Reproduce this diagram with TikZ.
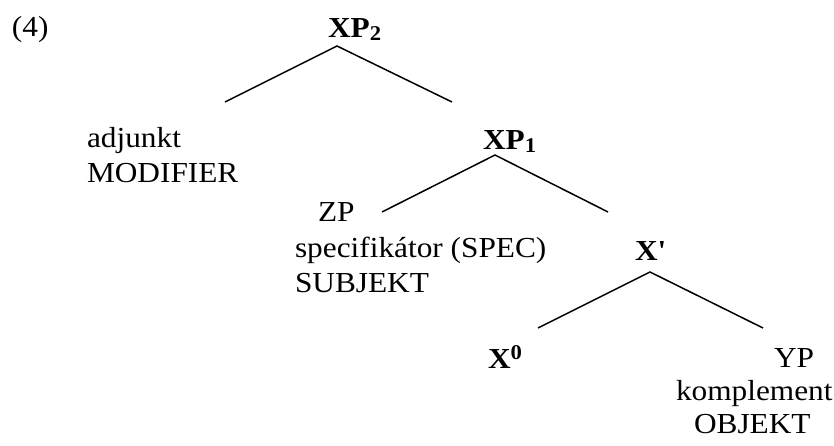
\documentclass[tikz,border=0pt]{standalone}
\usepackage{fontspec}
\setmainfont{Liberation Serif}[Ligatures={TeXOff,CommonOff},FakeStretch=1.08]
\newcommand\mysub[1]{\raisebox{-3pt}{\fontsize{21}{21}\selectfont #1}}
\newcommand\mysup[1]{\raisebox{9pt}{\fontsize{21}{21}\selectfont #1}}
\begin{document}
\begin{tikzpicture}[x=1pt,y=-1pt,
  lbl/.style={anchor=base west,inner sep=0pt,outer sep=0pt,font=\fontsize{29}{35}\selectfont},
  cat/.style={lbl,font=\fontsize{29}{35}\selectfont\bfseries},
  branch/.style={line width=1.5pt}]
\useasboundingbox (0,0) rectangle (834,446);
% labels
\node[lbl] (ex) at (12,37) {(4)};
\node[cat] (xp2) at (328,38) {XP\mysub{2}};
\node[lbl] (adj) at (87,148) {adjunkt};
\node[lbl] (mod) at (87,183) {MODIFIER};
\node[cat] (xp1) at (483,150) {XP\mysub{1}};
\node[lbl] (zp) at (318,222) {ZP};
\node[lbl] (spec) at (295,257) {specifikátor (SPEC)};
\node[lbl] (subj) at (295,292) {SUBJEKT};
\node[cat] (xbar) at (635,260) {X'};
\node[cat] (x0) at (488,368) {X\mysup{0}};
\node[lbl] (yp) at (774,367) {YP};
\node[lbl] (kompl) at (676,400) {komplement};
\node[lbl] (obj) at (694,433) {OBJEKT};
% branch points
\coordinate (p2) at (337,46);
\coordinate (p2l) at (225,102);
\coordinate (p2r) at (452,102);
\coordinate (p1) at (495,155);
\coordinate (p1l) at (382,212);
\coordinate (p1r) at (608,212);
\coordinate (pb) at (650,272);
\coordinate (pbl) at (538,328);
\coordinate (pbr) at (763,328);
% branches
\draw[branch] (p2l) -- (p2) -- (p2r);
\draw[branch] (p1l) -- (p1) -- (p1r);
\draw[branch] (pbl) -- (pb) -- (pbr);
\end{tikzpicture}
\end{document}
